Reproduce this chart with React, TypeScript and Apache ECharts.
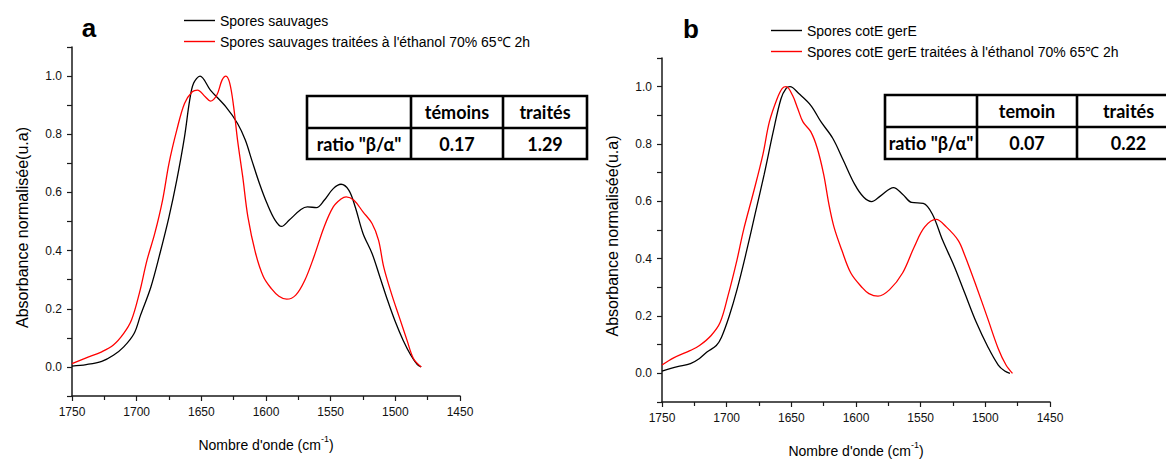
import React, { useEffect, useRef } from "react";
import * as echarts from "echarts";

// ---------- data ----------
const xTickMin = 1450;
const xTickMax = 1750;
const xTickStep = 50;
const yMin = -0.1;
const yMax = 1.1;

const panelLetters = ["a", "b"];

const legendA = ["Spores sauvages", "Spores sauvages traitées à l'éthanol 70% 65℃ 2h"];
const legendB = ["Spores cotE gerE", "Spores cotE gerE traitées à l'éthanol 70% 65℃ 2h"];

const waveA1 = [1750, 1739, 1727, 1718, 1710, 1702, 1697, 1689, 1682, 1675, 1669, 1663, 1659, 1656, 1651, 1643, 1631, 1622, 1616, 1611, 1605, 1599, 1593, 1588, 1582, 1573, 1568, 1561, 1555, 1548, 1542, 1536, 1531, 1525, 1518, 1512, 1506, 1500, 1494, 1488, 1483, 1480];
const absA1 = [0.003, 0.008, 0.019, 0.04, 0.069, 0.115, 0.178, 0.275, 0.39, 0.516, 0.642, 0.791, 0.917, 0.975, 1.0, 0.952, 0.894, 0.837, 0.78, 0.711, 0.63, 0.56, 0.505, 0.483, 0.505, 0.541, 0.55, 0.548, 0.573, 0.613, 0.628, 0.608, 0.55, 0.459, 0.39, 0.31, 0.229, 0.155, 0.092, 0.04, 0.008, 0];

const waveA2 = [1750, 1739, 1727, 1718, 1710, 1704, 1698, 1692, 1686, 1680, 1675, 1669, 1663, 1657, 1653, 1647, 1643, 1638, 1634, 1631, 1628, 1625, 1622, 1618, 1614, 1608, 1602, 1596, 1590, 1584, 1577, 1570, 1563, 1555, 1548, 1542, 1538, 1532, 1525, 1518, 1513, 1509, 1503, 1497, 1491, 1486, 1480];
const absA2 = [0.011, 0.031, 0.052, 0.075, 0.115, 0.161, 0.252, 0.367, 0.459, 0.573, 0.7, 0.814, 0.906, 0.946, 0.952, 0.929, 0.914, 0.935, 0.986, 1.0, 0.975, 0.894, 0.78, 0.654, 0.516, 0.39, 0.31, 0.27, 0.243, 0.233, 0.247, 0.298, 0.378, 0.482, 0.55, 0.577, 0.585, 0.573, 0.533, 0.493, 0.436, 0.344, 0.252, 0.172, 0.092, 0.029, 0];

const waveB1 = [1750, 1738, 1728, 1721, 1715, 1708, 1704, 1698, 1692, 1685, 1678, 1671, 1664, 1658, 1654, 1651, 1644, 1635, 1627, 1618, 1610, 1601, 1594, 1588, 1581, 1571, 1564, 1557, 1548, 1541, 1533, 1524, 1516, 1507, 1498, 1490, 1485, 1481];
const absB1 = [0.008, 0.023, 0.034, 0.052, 0.075, 0.097, 0.126, 0.2, 0.292, 0.419, 0.556, 0.694, 0.843, 0.958, 0.994, 1.0, 0.975, 0.935, 0.877, 0.82, 0.745, 0.659, 0.614, 0.599, 0.619, 0.648, 0.625, 0.596, 0.593, 0.556, 0.464, 0.373, 0.281, 0.178, 0.092, 0.029, 0.008, 0];

const waveB2 = [1750, 1741, 1728, 1721, 1712, 1705, 1699, 1692, 1687, 1679, 1672, 1667, 1661, 1657, 1654, 1649, 1645, 1641, 1635, 1630, 1625, 1621, 1617, 1611, 1604, 1595, 1590, 1583, 1574, 1564, 1555, 1547, 1538, 1530, 1521, 1516, 1507, 1498, 1490, 1484, 1479];
const absB2 = [0.029, 0.054, 0.08, 0.097, 0.132, 0.178, 0.27, 0.396, 0.499, 0.636, 0.763, 0.877, 0.958, 0.994, 1.0, 0.969, 0.923, 0.877, 0.843, 0.786, 0.694, 0.591, 0.51, 0.43, 0.35, 0.298, 0.278, 0.269, 0.292, 0.35, 0.441, 0.51, 0.537, 0.51, 0.464, 0.413, 0.304, 0.189, 0.086, 0.029, 0];

const tableHeadersA = ["témoins", "traités"];
const tableHeadersB = ["temoin", "traités"];
const tableRowLabel = 'ratio "β/α"';
const ratiosA = ["0.17", "1.29"];
const ratiosB = ["0.07", "0.22"];

const xAxisName = "Nombre d'onde (cm";
const xAxisSup = "-1";
const yAxisName = "Absorbance normalisée(u.a)";

// ---------- styles ----------
const FONT = "'Liberation Sans', Arial, Helvetica, sans-serif";
const TABLE_FONT = "Lato, 'Liberation Sans', Arial, sans-serif";
const AXIS_COLOR = "#1a1a1a";

const pairs = (xs: number[], ys: number[]) => xs.map((x, i) => [x, ys[i]]);

function makeXAxis(gridIndex: number) {
  return {
    type: "value",
    gridIndex,
    min: xTickMin,
    max: xTickMax,
    interval: xTickStep,
    inverse: true,
    name: `{n|${xAxisName}}{s|${xAxisSup}}{n|)}`,
    nameLocation: "middle",
    nameGap: 38,
    nameTextStyle: {
      rich: {
        n: { fontFamily: FONT, fontSize: 14, color: "#000", verticalAlign: "bottom", lineHeight: 18 },
        s: { fontFamily: FONT, fontSize: 9, color: "#000", verticalAlign: "top", lineHeight: 18, padding: [0, 0, 9, 0] },
      },
    },
    axisLine: { onZero: false, lineStyle: { color: AXIS_COLOR, width: 1.5 } },
    axisTick: { show: true, length: 5, lineStyle: { color: AXIS_COLOR, width: 1.2 } },
    minorTick: { show: true, splitNumber: 2, length: 4, lineStyle: { color: AXIS_COLOR, width: 1.2 } },
    axisLabel: {
      fontFamily: FONT,
      fontSize: 12,
      color: "#111",
      margin: 10,
      formatter: (v: number) => String(Math.round(v)),
    },
    splitLine: { show: false },
  };
}

function makeYAxis(gridIndex: number) {
  return {
    type: "value",
    gridIndex,
    min: yMin,
    max: yMax,
    interval: 0.1,
    name: yAxisName,
    nameLocation: "middle",
    nameGap: 42,
    nameTextStyle: { fontFamily: FONT, fontSize: 16, color: "#000", padding: [0, 12, 0, 0] },
    axisLine: { onZero: false, lineStyle: { color: AXIS_COLOR, width: 1.5 } },
    axisTick: { show: true, length: 5, lineStyle: { color: AXIS_COLOR, width: 1.2 } },
    axisLabel: {
      fontFamily: FONT,
      fontSize: 12,
      color: "#111",
      margin: 10,
      formatter: (v: number) => {
        const k = Math.round(v * 10);
        if (k < 0 || k > 10 || k % 2 !== 0) return "";
        return (k / 10).toFixed(1);
      },
    },
    splitLine: { show: false },
  };
}

function makeTable(cols: number[], rows: number[], headers: string[], label: string, values: string[]) {
  const els: any[] = [];
  const stroke = { stroke: "#000", lineWidth: 2.6 };
  els.push({
    type: "rect",
    shape: { x: cols[0], y: rows[0], width: cols[3] - cols[0], height: rows[2] - rows[0] },
    style: { fill: "#fff", ...stroke },
    z: 10,
  });
  els.push({ type: "line", shape: { x1: cols[0], y1: rows[1], x2: cols[3], y2: rows[1] }, style: stroke, z: 11 });
  els.push({ type: "line", shape: { x1: cols[1], y1: rows[0], x2: cols[1], y2: rows[2] }, style: stroke, z: 11 });
  els.push({ type: "line", shape: { x1: cols[2], y1: rows[0], x2: cols[2], y2: rows[2] }, style: stroke, z: 11 });
  const font = { fontFamily: TABLE_FONT, fontWeight: "bold", fontSize: 18, fill: "#000", align: "center", verticalAlign: "middle" };
  const r0 = (rows[0] + rows[1]) / 2;
  const r1 = (rows[1] + rows[2]) / 2;
  els.push({ type: "text", x: (cols[1] + cols[2]) / 2, y: r0, style: { text: headers[0], ...font }, z: 12 });
  els.push({ type: "text", x: (cols[2] + cols[3]) / 2, y: r0, style: { text: headers[1], ...font }, z: 12 });
  els.push({ type: "text", x: (cols[0] + cols[1]) / 2, y: r1, style: { text: label, ...font }, z: 12 });
  els.push({ type: "text", x: (cols[1] + cols[2]) / 2, y: r1, style: { text: values[0], ...font }, z: 12 });
  els.push({ type: "text", x: (cols[2] + cols[3]) / 2, y: r1, style: { text: values[1], ...font }, z: 12 });
  return els;
}

function makeLegend(names: string[], left: number, top: number) {
  return {
    data: names.map((n) => ({ name: n, icon: "rect" })),
    left,
    top,
    padding: 0,
    orient: "vertical",
    itemWidth: 31,
    itemHeight: 1.4,
    itemGap: 4,
    selectedMode: false,
    textStyle: { fontFamily: FONT, fontSize: 14, color: "#000", lineHeight: 17 },
  };
}

function lineSeries(name: string, xs: number[], ys: number[], color: string, idx: number) {
  return {
    type: "line",
    name,
    xAxisIndex: idx,
    yAxisIndex: idx,
    data: pairs(xs, ys),
    smooth: 0.35,
    symbol: "none",
    lineStyle: { color, width: 1.3 },
    itemStyle: { color },
  };
}

export default function App() {
  const ref = useRef<HTMLDivElement>(null);
  useEffect(() => {
    if (!ref.current) return;
    const chart = echarts.init(ref.current, undefined, { renderer: "svg" });
    const option: any = {
      animation: false,
      backgroundColor: "#fff",
      grid: [
        { left: 72, top: 47, width: 388, height: 349 },
        { left: 662, top: 58, width: 388, height: 349 },
      ],
      xAxis: [makeXAxis(0), makeXAxis(1)],
      yAxis: [makeYAxis(0), makeYAxis(1)],
      legend: [makeLegend(legendA, 184, 12), makeLegend(legendB, 771, 22)],
      series: [
        lineSeries(legendA[0], waveA1, absA1, "#000000", 0),
        lineSeries(legendA[1], waveA2, absA2, "#ff0000", 0),
        lineSeries(legendB[0], waveB1, absB1, "#000000", 1),
        lineSeries(legendB[1], waveB2, absB2, "#ff0000", 1),
      ],
      graphic: [
        {
          type: "text",
          x: 89,
          y: 28,
          style: { text: panelLetters[0], fontFamily: FONT, fontWeight: "bold", fontSize: 26, fill: "#000", align: "center", verticalAlign: "middle" },
        },
        {
          type: "text",
          x: 691,
          y: 29,
          style: { text: panelLetters[1], fontFamily: FONT, fontWeight: "bold", fontSize: 26, fill: "#000", align: "center", verticalAlign: "middle" },
        },
        ...makeTable([307, 411, 503, 587], [96, 128, 159], tableHeadersA, tableRowLabel, ratiosA),
        ...makeTable([885, 977, 1077, 1180], [95, 127, 159], tableHeadersB, tableRowLabel, ratiosB),
      ],
    };
    chart.setOption(option);
    return () => chart.dispose();
  }, []);
  return (
    <div
      ref={ref}
      style={{ position: "fixed", left: 0, top: 0, width: 1166, height: 463, background: "#fff" }}
    />
  );
}
